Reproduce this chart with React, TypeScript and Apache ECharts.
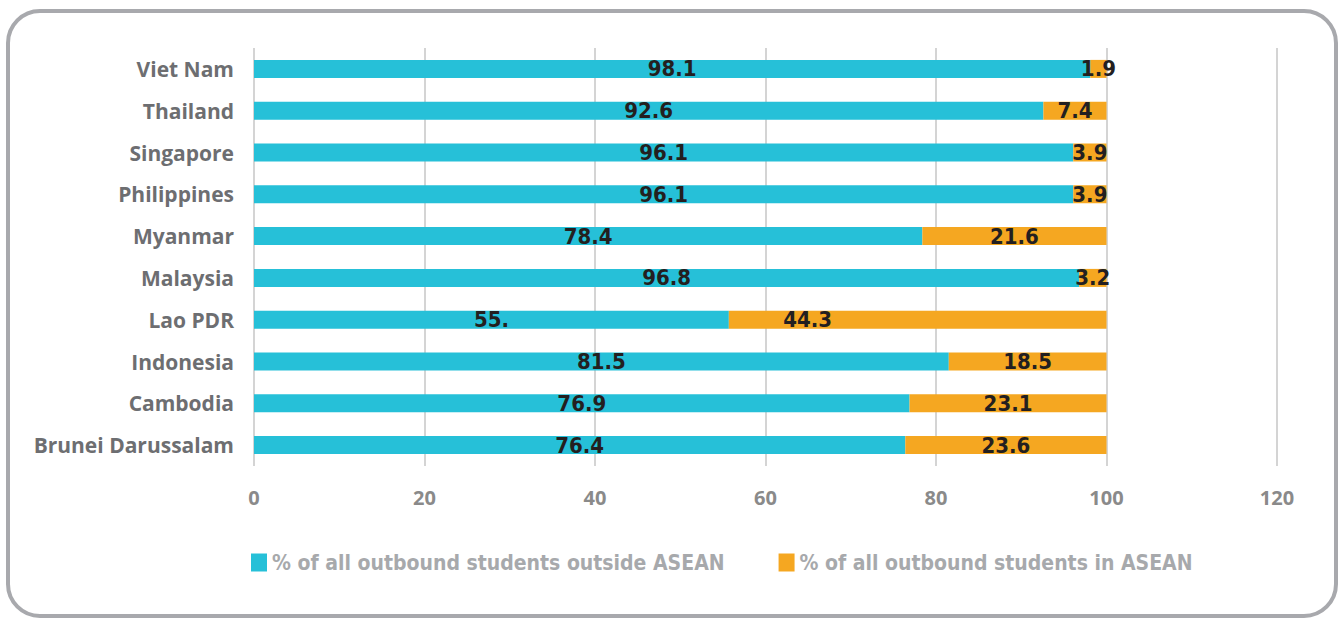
import React, { useEffect, useRef } from "react";
import * as echarts from "echarts";

const categories = [
  "Viet Nam",
  "Thailand",
  "Singapore",
  "Philippines",
  "Myanmar",
  "Malaysia",
  "Lao PDR",
  "Indonesia",
  "Cambodia",
  "Brunei Darussalam",
];
const outsideAsean = [98.1, 92.6, 96.1, 96.1, 78.4, 96.8, 55.7, 81.5, 76.9, 76.4];
const inAsean = [1.9, 7.4, 3.9, 3.9, 21.6, 3.2, 44.3, 18.5, 23.1, 23.6];
const outsideLabels = ["98.1", "92.6", "96.1", "96.1", "78.4", "96.8", "55.", "81.5", "76.9", "76.4"];
const inLabels = ["1.9", "7.4", "3.9", "3.9", "21.6", "3.2", "44.3", "18.5", "23.1", "23.6"];
const xTicks = [0, 20, 40, 60, 80, 100, 120];
const seriesNames = [
  "% of all outbound students outside ASEAN",
  "% of all outbound students in ASEAN",
];

const BLUE = "#26c0d8";
const ORANGE = "#f5a721";
const NARROW = "'DejaVu Sans Condensed', 'Liberation Sans Narrow', sans-serif";
const WIDE = "'Open Sans', sans-serif";

export default function App() {
  const ref = useRef<HTMLDivElement>(null);
  useEffect(() => {
    if (!ref.current) return;
    const chart = echarts.init(ref.current, null, { renderer: "svg" });
    const dataLabel = {
      show: true,
      position: "inside",
      color: "#231f20",
      fontFamily: NARROW,
      fontWeight: "bold",
      fontSize: 22,
    };
    chart.setOption({
      animation: false,
      backgroundColor: "#ffffff",
      graphic: [
        {
          type: "rect",
          shape: { x: 8, y: 11, width: 1328, height: 605, r: 32 },
          style: { fill: "none", stroke: "#a8a9ad", lineWidth: 4 },
          z: 0,
        },
      ],
      grid: { left: 254, top: 48, width: 1023, height: 418 },
      legend: {
        left: 246,
        top: 547,
        itemWidth: 16,
        itemHeight: 18,
        itemGap: 54,
        icon: "rect",
        textStyle: {
          color: "#a7a9ac",
          fontFamily: NARROW,
          fontWeight: "bold",
          fontSize: 21,
        },
        data: seriesNames,
      },
      xAxis: {
        type: "value",
        min: xTicks[0],
        max: xTicks[xTicks.length - 1],
        interval: 20,
        axisLine: { show: false },
        axisTick: { show: false },
        splitLine: { show: true, lineStyle: { color: "#d4d4d4", width: 2 } },
        axisLabel: {
          color: "#8a8a8a",
          fontFamily: WIDE,
          fontWeight: "bold",
          fontSize: 20,
          margin: 21,
        },
      },
      yAxis: {
        type: "category",
        inverse: true,
        data: categories,
        axisLine: { show: false },
        axisTick: { show: false },
        axisLabel: {
          color: "#6d6e71",
          fontFamily: WIDE,
          fontWeight: "bold",
          fontSize: 21,
          margin: 20,
          verticalAlign: "middle",
          lineHeight: 24,
          padding: [0, 0, 7, 0],
        },
      },
      series: [
        {
          name: seriesNames[0],
          type: "bar",
          stack: "total",
          barWidth: 18,
          itemStyle: { color: BLUE },
          label: { ...dataLabel, formatter: (p: any) => outsideLabels[p.dataIndex] },
          data: outsideAsean,
        },
        {
          name: seriesNames[1],
          type: "bar",
          stack: "total",
          barWidth: 18,
          itemStyle: { color: ORANGE },
          label: { ...dataLabel, formatter: (p: any) => inLabels[p.dataIndex] },
          data: inAsean.map((v, i) =>
            categories[i] === "Lao PDR"
              ? { value: v, label: { offset: [-110, 0] } }
              : v
          ),
        },
      ],
    });
    return () => chart.dispose();
  }, []);
  return (
    <div
      ref={ref}
      style={{ position: "fixed", left: 0, top: 0, width: 1341, height: 619 }}
    />
  );
}
